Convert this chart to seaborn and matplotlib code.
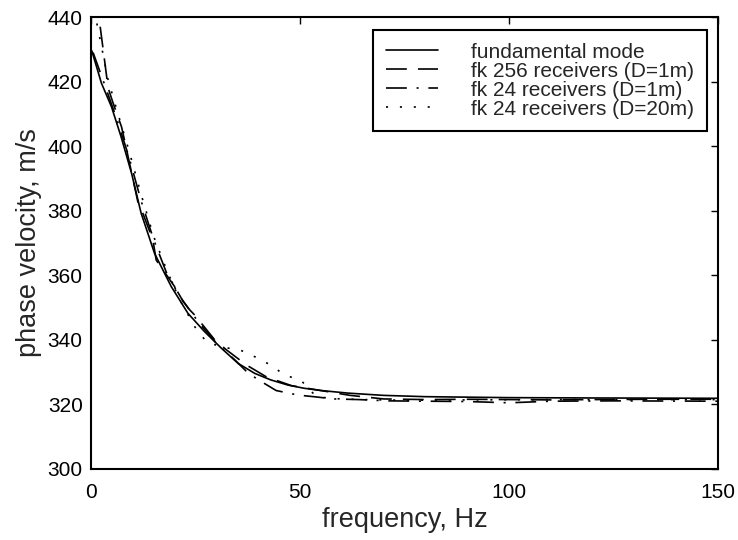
import numpy as np
import pandas as pd
import matplotlib
matplotlib.use('Agg')
import matplotlib.pyplot as plt
import seaborn as sns

# Values
fund_f = [0.2, 2.5, 4.9, 7.2, 9.7, 12.0, 15.2, 19.2, 23.2, 27.2, 31.2, 35.2,
          39.2, 43.0, 47.1, 51.0, 55.1, 61.5, 70.0, 80.0, 100.0, 120.0, 150.0]
fund_v = [429.5, 419.5, 412.2, 402.9, 391.6, 379.2, 366.8, 356.5, 348.2, 342.5, 337.4, 332.7,
          329.6, 327.6, 326.0, 325.0, 324.3, 323.5, 322.8, 322.4, 322.1, 322.0, 321.9]

fk256_f = [2.2, 4.1, 5.3, 7.3, 8.1, 11.2, 12.4, 14.8, 15.6, 20.0, 20.4, 23.6, 24.8, 29.6,
           32.4, 37.2, 42.0, 48.0, 55.0, 62.0, 70.0, 80.0, 90.0, 100.0, 110.0, 120.0, 135.0, 150.0]
fk256_v = [437.0, 418.0, 413.3, 406.0, 401.4, 382.8, 379.2, 371.0, 364.7, 356.5, 354.9, 349.3, 347.7, 340.0,
           336.9, 332.2, 328.5, 325.8, 324.3, 322.8, 321.7, 321.5, 321.6, 321.5, 321.4, 321.5, 321.6, 321.6]

fk24_f = [0.5, 3.0, 6.0, 9.0, 12.0, 15.0, 18.0, 22.0, 26.0, 30.0, 34.4, 37.6, 40.7,
          44.3, 49.5, 54.0, 58.0, 64.0, 71.0, 80.0, 90.0, 100.0, 110.0, 125.0, 150.0]
fk24_v = [429.0, 420.0, 409.0, 397.0, 383.0, 371.0, 361.0, 352.0, 345.0, 339.0, 333.8, 329.7, 327.1,
          324.3, 322.9, 322.3, 321.7, 321.5, 321.1, 321.0, 320.9, 320.5, 321.0, 321.1, 321.0]

fk24d20_f = [1.4, 2.5, 4.0, 6.0, 9.0, 12.0, 15.0, 18.0, 21.0, 24.8, 27.6, 31.5, 35.6,
             39.3, 43.0, 46.3, 50.2, 53.9, 58.0, 65.0, 75.0, 90.0, 110.0, 130.0, 150.0]
fk24d20_v = [438.0, 431.0, 421.0, 412.0, 399.0, 385.0, 372.0, 362.0, 353.0, 344.1, 339.4, 337.7, 336.9,
             334.7, 332.2, 329.1, 327.5, 322.4, 321.8, 321.5, 321.3, 321.4, 321.5, 321.5, 321.5]

labels = ['fundamental mode', 'fk 256 receivers (D=1m)',
          'fk 24 receivers (D=1m)', 'fk 24 receivers (D=20m)']

x_ticks = [0, 50, 100, 150]
y_ticks = [300, 320, 340, 360, 380, 400, 420, 440]

sns.set_style('white')
plt.rcParams['font.family'] = ['Liberation Sans', 'DejaVu Sans']
plt.rcParams['lines.scale_dashes'] = False

fig, ax = plt.subplots(figsize=(7.38, 5.4), dpi=100)
fig.subplots_adjust(left=0.1233, right=0.9729, bottom=0.1315, top=0.9685)

series = [(fund_f, fund_v, '-'),
          (fk256_f, fk256_v, (0, (15, 8))),
          (fk24_f, fk24_v, (0, (15, 7, 1.5, 7))),
          (fk24d20_f, fk24d20_v, (0, (1.5, 8.5)))]

for (f, v, ls), lab in zip(series, labels):
    sns.lineplot(x=f, y=v, ax=ax, color='black', linewidth=1.2,
                 linestyle=ls, label=lab, estimator=None, sort=False)

ax.set_xlim(0, 150)
ax.set_ylim(300, 440)
ax.set_xticks(x_ticks)
ax.set_yticks(y_ticks)
ax.tick_params(direction='in', length=5, width=1, top=True, right=True,
               labelsize=15, colors='black')
ax.tick_params(axis='x', pad=10)
ax.tick_params(axis='y', pad=6)
for s in ax.spines.values():
    s.set_visible(True)
    s.set_color('black')
    s.set_linewidth(1.5)

ax.set_xlabel('frequency, Hz', fontsize=19.5, labelpad=4)
ax.set_ylabel('phase velocity, m/s', fontsize=19.5, labelpad=4)

leg = ax.legend(loc='upper right', bbox_to_anchor=(0.982, 0.971), fontsize=15,
                frameon=True, fancybox=False, edgecolor='black', framealpha=1,
                borderaxespad=0, handlelength=2.5, handletextpad=1.6,
                labelspacing=0.0, borderpad=0.6)
leg.get_frame().set_linewidth(1.5)

fig.savefig('out.png', dpi=100)
